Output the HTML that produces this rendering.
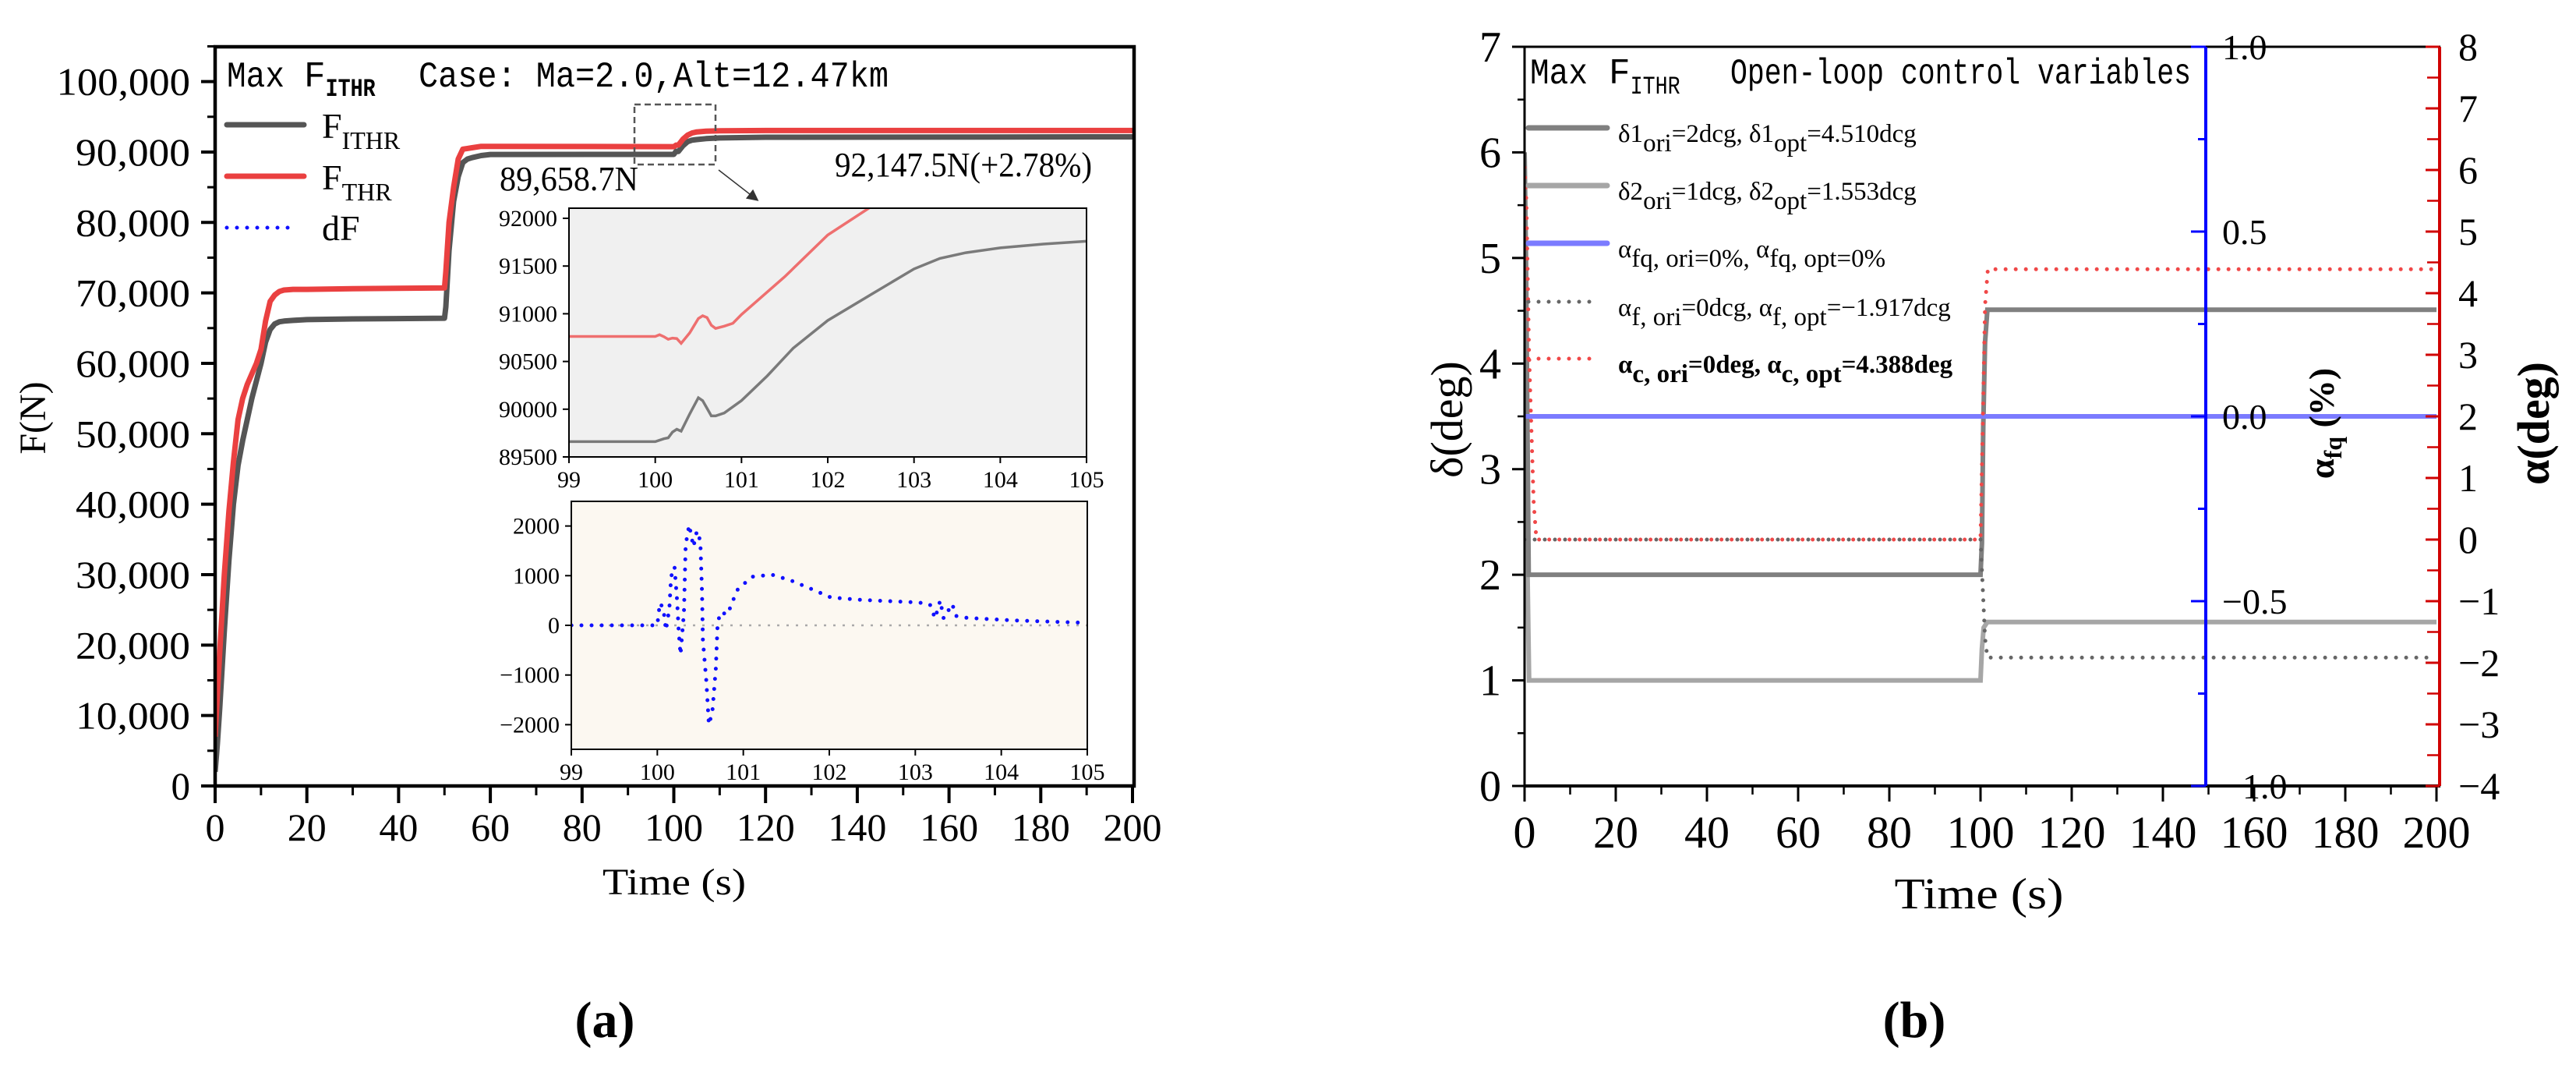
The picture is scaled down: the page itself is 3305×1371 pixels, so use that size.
<!DOCTYPE html>
<html><head><meta charset="utf-8"><style>
html,body{margin:0;padding:0;background:#fff}
svg{display:block}
text{font-family:"Liberation Serif",serif}
.mono{font-family:"Liberation Mono",monospace}
</style></head><body>
<svg id="fig" width="3305" height="1371" viewBox="0 0 3305 1371" xmlns="http://www.w3.org/2000/svg">
<defs>
<clipPath id="clipMain"><rect x="276" y="60" width="1179" height="948"/></clipPath>
<clipPath id="clipIn1"><rect x="730" y="267" width="664" height="319"/></clipPath>
<clipPath id="clipIn2"><rect x="733" y="643" width="662" height="318"/></clipPath>
<clipPath id="clipR"><rect x="1956" y="60" width="1175" height="948"/></clipPath>
<marker id="arrowHead" markerWidth="10" markerHeight="10" refX="8" refY="5" orient="auto"><path d="M0,0 L10,5 L0,10 Z" fill="#333"/></marker>
</defs>
<rect x="0" y="0" width="3305" height="1371" fill="#fff"/>

<!-- ===== Panel A ===== -->
<g id="panelA">
  <g id="mainLines" clip-path="url(#clipMain)"></g>
  <rect x="276" y="60" width="1179" height="948" fill="none" stroke="#000" stroke-width="4.5"/>
  <g id="mainAxes"></g>
  <text x="291" y="111" class="mono" font-size="46" textLength="74" lengthAdjust="spacingAndGlyphs">Max</text>
  <text x="390" y="111" class="mono" font-size="46">F<tspan font-size="32" dy="12" font-weight="bold" textLength="64" lengthAdjust="spacingAndGlyphs">ITHR</tspan></text>
  <text x="537" y="111" class="mono" font-size="46" textLength="603" lengthAdjust="spacingAndGlyphs">Case: Ma=2.0,Alt=12.47km</text>
  <g>
    <line x1="291" y1="160" x2="390" y2="160" stroke="#555" stroke-width="7" stroke-linecap="round"/>
    <text x="413" y="177" font-size="46">F<tspan font-size="32" dy="14">ITHR</tspan></text>
    <line x1="291" y1="226" x2="390" y2="226" stroke="#ea4040" stroke-width="7" stroke-linecap="round"/>
    <text x="413" y="243" font-size="46">F<tspan font-size="32" dy="14">THR</tspan></text>
    <line x1="291" y1="292" x2="376" y2="292" stroke="#1010ff" stroke-width="5" stroke-linecap="round" stroke-dasharray="0 13"/>
    <text x="413" y="308" font-size="46">dF</text>
  </g>
  <rect x="814" y="134" width="104" height="77" fill="none" stroke="#555" stroke-width="2.5" stroke-dasharray="8 5"/>
  <line x1="922" y1="218" x2="971" y2="256" stroke="#333" stroke-width="1.5" marker-end="url(#arrowHead)"/>
  <text x="641" y="244" font-size="44" textLength="178" lengthAdjust="spacingAndGlyphs">89,658.7N</text>
  <text x="1071" y="226" font-size="44" textLength="330" lengthAdjust="spacingAndGlyphs">92,147.5N(+2.78%)</text>
  <!-- inset 1 -->
  <rect x="730" y="267" width="664" height="319" fill="#f0f0f0"/>
  <g id="in1Lines" clip-path="url(#clipIn1)"></g>
  <rect x="730" y="267" width="664" height="319" fill="none" stroke="#000" stroke-width="2"/>
  <g id="in1Axes"></g>
  <!-- inset 2 -->
  <rect x="733" y="643" width="662" height="318" fill="#fcf8f1"/>
  <g id="in2Lines" clip-path="url(#clipIn2)"></g>
  <rect x="733" y="643" width="662" height="318" fill="none" stroke="#000" stroke-width="2"/>
  <g id="in2Axes"></g>
  <text x="865" y="1147" font-size="48" text-anchor="middle" textLength="184" lengthAdjust="spacingAndGlyphs">Time (s)</text>
  <text transform="translate(58,536) rotate(-90)" font-size="48" text-anchor="middle">F(N)</text>
  <text x="776" y="1330" font-size="66" font-weight="bold" text-anchor="middle">(a)</text>
</g>

<!-- ===== Panel B ===== -->
<g id="panelB">
  <g id="rLines" clip-path="url(#clipR)"></g>
  <g id="rAxes"></g>
  <text x="1963" y="107" class="mono" font-size="46" textLength="74" lengthAdjust="spacingAndGlyphs">Max</text>
  <text x="2064" y="107" class="mono" font-size="46">F<tspan font-size="32" dy="13" textLength="64" lengthAdjust="spacingAndGlyphs">ITHR</tspan></text>
  <text x="2220" y="107" class="mono" font-size="46" textLength="591" lengthAdjust="spacingAndGlyphs">Open-loop control variables</text>
  <g>
    <line x1="1961" y1="164" x2="2062" y2="164" stroke="#808080" stroke-width="7" stroke-linecap="round"/>
    <text x="2076" y="182" font-size="33">δ1<tspan dy="12">ori</tspan><tspan dy="-12">=2dcg, δ1</tspan><tspan dy="12">opt</tspan><tspan dy="-12">=4.510dcg</tspan></text>
    <line x1="1961" y1="238" x2="2062" y2="238" stroke="#a6a6a6" stroke-width="7" stroke-linecap="round"/>
    <text x="2076" y="256" font-size="33">δ2<tspan dy="12">ori</tspan><tspan dy="-12">=1dcg, δ2</tspan><tspan dy="12">opt</tspan><tspan dy="-12">=1.553dcg</tspan></text>
    <line x1="1961" y1="312" x2="2062" y2="312" stroke="#7b7bff" stroke-width="7" stroke-linecap="round"/>
    <text x="2076" y="330" font-size="33">α<tspan dy="12">fq, ori=0%, </tspan><tspan dy="-12">α</tspan><tspan dy="12">fq, opt=0%</tspan></text>
    <line x1="1961" y1="387" x2="2050" y2="387" stroke="#666" stroke-width="5" stroke-linecap="round" stroke-dasharray="0 13"/>
    <text x="2076" y="405" font-size="33">α<tspan dy="12">f, ori</tspan><tspan dy="-12">=0dcg, α</tspan><tspan dy="12">f, opt</tspan><tspan dy="-12">=−1.917dcg</tspan></text>
    <line x1="1961" y1="460" x2="2050" y2="460" stroke="#f04848" stroke-width="5" stroke-linecap="round" stroke-dasharray="0 13"/>
    <text x="2076" y="478" font-size="33" font-weight="bold">α<tspan dy="12">c, ori</tspan><tspan dy="-12">=0deg, α</tspan><tspan dy="12">c, opt</tspan><tspan dy="-12">=4.388deg</tspan></text>
  </g>
  <text x="2539" y="1165" font-size="56" text-anchor="middle" textLength="217" lengthAdjust="spacingAndGlyphs">Time (s)</text>
  <text transform="translate(1876,538) rotate(-90)" font-size="58" text-anchor="middle">δ(deg)</text>
  <text transform="translate(2994,543) rotate(-90)" font-size="46" font-weight="bold" text-anchor="middle">α<tspan font-size="32" dy="10">fq</tspan><tspan dy="-10"> (%)</tspan></text>
  <text transform="translate(3270,543) rotate(-90)" font-size="58" font-weight="bold" text-anchor="middle">α(deg)</text>
  <text x="2456" y="1330" font-size="66" font-weight="bold" text-anchor="middle">(b)</text>
</g>
</svg>
<script>
// ---------- Panel A data ----------
const mainT = [0,0.5,1,2,3,4,5,6,7,8,9,10,11,12,13,14,15,17,20,30,50,50.3,51,52,53,54,55,56,58,60,100,100.5,101,102,103,104,105,107,110,120,200];
const fIthr = [2000,6000,11000,22000,32000,40000,45500,49000,52000,55000,57500,60000,63000,64800,65600,65900,66000,66100,66200,66300,66400,68000,76000,83000,86500,88500,89000,89200,89500,89650,89660,90100,90080,90900,91470,91690,91760,91900,92000,92100,92147];
const fThr = [7000,13000,19000,30000,39000,46000,52000,55000,57000,58500,60000,62000,66000,68800,69700,70200,70400,70500,70500,70600,70700,73000,80000,85000,89000,90400,90500,90600,90800,90800,90760,90980,90990,91830,92400,92700,92850,92950,93000,93050,93050];
const mainXTicks = [0,20,40,60,80,100,120,140,160,180,200];
const mainYTicks = [0,10000,20000,30000,40000,50000,60000,70000,80000,90000,100000];
const mainYLabels = ["0","10,000","20,000","30,000","40,000","50,000","60,000","70,000","80,000","90,000","100,000"];

const in1GrayT = [99,100,100.1,100.15,100.2,100.25,100.3,100.4,100.5,100.55,100.6,100.65,100.7,100.8,101,101.3,101.6,102,102.5,103,103.3,103.6,104,104.5,105];
const in1Gray = [89660,89660,89690,89700,89760,89790,89770,89950,90120,90090,90010,89930,89930,89960,90090,90350,90640,90930,91200,91470,91580,91640,91690,91730,91760];
const in1RedT = [99,100,100.05,100.1,100.15,100.2,100.25,100.3,100.4,100.5,100.55,100.6,100.65,100.7,100.8,100.9,101,101.5,102,102.5];
const in1Red = [90762,90762,90780,90760,90733,90745,90740,90690,90800,90950,90979,90960,90880,90846,90870,90900,90992,91387,91825,92120];
const in1XTicks = [99,100,101,102,103,104,105];
const in1YTicks = [89500,90000,90500,91000,91500,92000];

const dfT = [99,100.0,100.03,100.07,100.10,100.14,100.16,100.20,100.23,100.25,100.27,100.31,100.33,100.37,100.42,100.46,100.50,100.52,100.53,100.57,100.60,100.64,100.68,100.70,100.73,100.82,100.86,100.94,101.11,101.33,101.56,101.78,102.02,102.39,102.78,103.04,103.17,103.23,103.29,103.33,103.43,103.47,103.60,104.12,104.99];
const dfV = [0,0,450,340,-100,340,980,1180,500,-150,-590,260,1620,2020,1580,1900,1700,660,-300,-1120,-2000,-1750,-870,0,260,220,420,740,980,1020,900,740,560,510,480,460,420,140,500,140,430,190,150,100,50];
const in2XTicks = [99,100,101,102,103,104,105];
const in2YTicks = [-2000,-1000,0,1000,2000];

// ---------- Panel B data ----------
const d1T = [0,0.3,0.9,100,100.3,100.6,101,101.5,200];
const d1V = [6,5,2,2,2.3,3.4,4.2,4.51,4.51];
const d2T = [0,0.3,1,100,100.3,100.7,101.5,200];
const d2V = [6,3,1,1,1.3,1.5,1.553,1.553];
const afqT = [0,200];
const afqV = [0,0];
const afT = [0,100,100.5,101,101.5,200];
const afV = [0,0,-0.8,-1.6,-1.917,-1.917];
const acT = [0,0.4,1,2,2.6,100,100.4,101,101.6,200];
const acV = [6.04,5.5,3,0.6,0,0,1.5,3.8,4.388,4.388];
const rXTicks = [0,20,40,60,80,100,120,140,160,180,200];
const deltaTicks = [0,1,2,3,4,5,6,7];
const afqTicks = [-1,-0.5,0,0.5,1];
const afqLabels = ["\u22121.0","\u22120.5","0.0","0.5","1.0"];
const alphaTicks = [-4,-3,-2,-1,0,1,2,3,4,5,6,7,8];

// ---------- scales ----------
const X = t => 276 + t * 5.885;
const Y = v => 1008 - v * 0.009034;
const IX = t => 730 + (t - 99) * 110.67;
const IY = v => 586 - (v - 89500) * 0.1224;
const IX2 = t => 733 + (t - 99) * 110.33;
const IY2 = v => 802 - v * 0.0637;
const RX = t => 1956 + t * 5.85;
const RYd = d => 1008 - d * 135.43;
const RYa = a => 1008 - (a + 4) * 79;
const RYb = p => 534 - p * 474;

const NS = 'http://www.w3.org/2000/svg';
function mk(parent, tag, attrs, name) {
  const el = document.createElementNS(NS, tag);
  for (const k in attrs) el.setAttribute(k, attrs[k]);
  
  
  parent.appendChild(el);
  return el;
}
function pathD(ts, vs, fx, fy) {
  return ts.map((t, i) => (i ? 'L' : 'M') + fx(t).toFixed(1) + ',' + fy(vs[i]).toFixed(1)).join('');
}
function txt(parent, x, y, s, size, anchor, name, extra) {
  const el = mk(parent, 'text', Object.assign({x: x, y: y, 'font-size': size, 'text-anchor': anchor}, extra || {}), name);
  el.textContent = s;
  return el;
}
const $ = id => document.getElementById(id);

// ---- Panel A main ----
const ml = $('mainLines');
mk(ml, 'path', {d: pathD(mainT, fIthr, X, Y), fill: 'none', stroke: '#555', 'stroke-width': 7, 'stroke-linejoin': 'round'}, 'fithr-series-line');
mk(ml, 'path', {d: pathD(mainT, fThr, X, Y), fill: 'none', stroke: '#ea4040', 'stroke-width': 7, 'stroke-linejoin': 'round'}, 'fthr-series-line');

const ma = $('mainAxes');
mainXTicks.forEach(t => {
  mk(ma, 'line', {x1: X(t), y1: 1008, x2: X(t), y2: 1030, stroke: '#000', 'stroke-width': 4}, 'x-major-tick');
  txt(ma, X(t), 1078, String(t), 50, 'middle', 'x-tick-label');
});
mainXTicks.slice(0, -1).forEach(t => {
  mk(ma, 'line', {x1: X(t + 10), y1: 1008, x2: X(t + 10), y2: 1020, stroke: '#000', 'stroke-width': 3}, 'x-minor-tick');
});
mainYTicks.forEach((v, i) => {
  mk(ma, 'line', {x1: 258, y1: Y(v), x2: 276, y2: Y(v), stroke: '#000', 'stroke-width': 4}, 'y-major-tick');
  txt(ma, 244, Y(v) + 17, mainYLabels[i], 50, 'end', 'y-tick-label', {textLength: mainYLabels[i].length * 24.5, lengthAdjust: 'spacingAndGlyphs'});
  mk(ma, 'line', {x1: 266, y1: Y(v + 5000), x2: 276, y2: Y(v + 5000), stroke: '#000', 'stroke-width': 3}, 'y-minor-tick');
});

// ---- inset 1 ----
const i1 = $('in1Lines');
mk(i1, 'path', {d: pathD(in1GrayT, in1Gray, IX, IY), fill: 'none', stroke: '#7a7a7a', 'stroke-width': 3.5}, 'inset-fithr-line');
mk(i1, 'path', {d: pathD(in1RedT, in1Red, IX, IY), fill: 'none', stroke: '#ee6f6f', 'stroke-width': 3.5}, 'inset-fthr-line');
const i1a = $('in1Axes');
in1XTicks.forEach(t => {
  mk(i1a, 'line', {x1: IX(t), y1: 586, x2: IX(t), y2: 594, stroke: '#000', 'stroke-width': 2}, 'inset-thrust-x-tick');
  txt(i1a, IX(t), 625, String(t), 30, 'middle', 'inset-thrust-x-label');
});
in1YTicks.forEach(v => {
  mk(i1a, 'line', {x1: 722, y1: IY(v), x2: 730, y2: IY(v), stroke: '#000', 'stroke-width': 2}, 'inset-thrust-y-tick');
  txt(i1a, 715, IY(v) + 10, String(v), 30, 'end', 'inset-thrust-y-label');
});

// ---- inset 2 ----
const i2 = $('in2Lines');
mk(i2, 'line', {x1: 733, y1: IY2(0), x2: 1395, y2: IY2(0), stroke: '#aaa', 'stroke-width': 2.5, 'stroke-dasharray': '3 9'}, 'inset-df-zero-line');
mk(i2, 'path', {d: pathD(dfT, dfV, IX2, IY2), fill: 'none', stroke: '#1010ff', 'stroke-width': 5, 'stroke-linecap': 'round', 'stroke-dasharray': '0 13'}, 'inset-df-line');
const i2a = $('in2Axes');
in2XTicks.forEach(t => {
  mk(i2a, 'line', {x1: IX2(t), y1: 961, x2: IX2(t), y2: 969, stroke: '#000', 'stroke-width': 2}, 'inset-df-x-tick');
  txt(i2a, IX2(t), 1000, String(t), 30, 'middle', 'inset-df-x-label');
});
in2YTicks.forEach(v => {
  mk(i2a, 'line', {x1: 725, y1: IY2(v), x2: 733, y2: IY2(v), stroke: '#000', 'stroke-width': 2}, 'inset-df-y-tick');
  txt(i2a, 718, IY2(v) + 10, String(v).replace('-', '\u2212'), 30, 'end', 'inset-df-y-label');
});

// ---- Panel B ----
const rl = $('rLines');
mk(rl, 'path', {d: pathD(d2T, d2V, RX, RYd), fill: 'none', stroke: '#a6a6a6', 'stroke-width': 6}, 'delta2-series-line');
mk(rl, 'path', {d: pathD(d1T, d1V, RX, RYd), fill: 'none', stroke: '#808080', 'stroke-width': 6}, 'delta1-series-line');
mk(rl, 'path', {d: pathD(afqT, afqV, RX, RYb), fill: 'none', stroke: '#7b7bff', 'stroke-width': 6}, 'alpha-fq-series-line');
mk(rl, 'path', {d: pathD(afT, afV, RX, RYa), fill: 'none', stroke: '#666', 'stroke-width': 5, 'stroke-linecap': 'round', 'stroke-dasharray': '0 13'}, 'alpha-f-series-line');
mk(rl, 'path', {d: pathD(acT, acV, RX, RYa), fill: 'none', stroke: '#f04848', 'stroke-width': 5, 'stroke-linecap': 'round', 'stroke-dasharray': '0 13'}, 'alpha-c-series-line');

const ra = $('rAxes');
mk(ra, 'line', {x1: 1956, y1: 60, x2: 3131, y2: 60, stroke: '#000', 'stroke-width': 3}, 'panel-b-top-frame');
mk(ra, 'line', {x1: 1956, y1: 1008, x2: 3131, y2: 1008, stroke: '#000', 'stroke-width': 4}, 'panel-b-x-axis');
mk(ra, 'line', {x1: 1956, y1: 60, x2: 1956, y2: 1008, stroke: '#000', 'stroke-width': 3}, 'delta-axis-line');
mk(ra, 'line', {x1: 2830, y1: 60, x2: 2830, y2: 1008, stroke: '#0000ff', 'stroke-width': 4}, 'alpha-fq-axis-line');
mk(ra, 'line', {x1: 3130, y1: 60, x2: 3130, y2: 1008, stroke: '#d00000', 'stroke-width': 4}, 'alpha-axis-line');
rXTicks.forEach(t => {
  mk(ra, 'line', {x1: RX(t), y1: 1008, x2: RX(t), y2: 1028, stroke: '#000', 'stroke-width': 3}, 'panel-b-x-major-tick');
  txt(ra, RX(t), 1087, String(t), 58, 'middle', 'panel-b-x-tick-label');
});
rXTicks.slice(0, -1).forEach(t => {
  mk(ra, 'line', {x1: RX(t + 10), y1: 1008, x2: RX(t + 10), y2: 1019, stroke: '#000', 'stroke-width': 2.5}, 'panel-b-x-minor-tick');
});
deltaTicks.forEach(d => {
  mk(ra, 'line', {x1: 1940, y1: RYd(d), x2: 1956, y2: RYd(d), stroke: '#000', 'stroke-width': 3}, 'delta-major-tick');
  txt(ra, 1926, RYd(d) + 19, String(d), 56, 'end', 'delta-tick-label');
  if (d < 7) mk(ra, 'line', {x1: 1947, y1: RYd(d + 0.5), x2: 1956, y2: RYd(d + 0.5), stroke: '#000', 'stroke-width': 2.5}, 'delta-minor-tick');
});
afqTicks.forEach((p, i) => {
  mk(ra, 'line', {x1: 2811, y1: RYb(p), x2: 2830, y2: RYb(p), stroke: '#0000ff', 'stroke-width': 3}, 'alpha-fq-major-tick');
  txt(ra, 2851, RYb(p) + 16, afqLabels[i], 46, 'start', 'alpha-fq-tick-label');
  if (p < 1) mk(ra, 'line', {x1: 2820, y1: RYb(p + 0.25), x2: 2830, y2: RYb(p + 0.25), stroke: '#0000ff', 'stroke-width': 3}, 'alpha-fq-minor-tick');
});
alphaTicks.forEach(a => {
  mk(ra, 'line', {x1: 3112, y1: RYa(a), x2: 3130, y2: RYa(a), stroke: '#d00000', 'stroke-width': 3}, 'alpha-major-tick');
  txt(ra, 3154, RYa(a) + 17, String(a).replace('-', '\u2212'), 50, 'start', 'alpha-tick-label');
  if (a < 8) mk(ra, 'line', {x1: 3114, y1: RYa(a + 0.5), x2: 3130, y2: RYa(a + 0.5), stroke: '#d00000', 'stroke-width': 2.5}, 'alpha-minor-tick');
});
</script>
</body></html>
